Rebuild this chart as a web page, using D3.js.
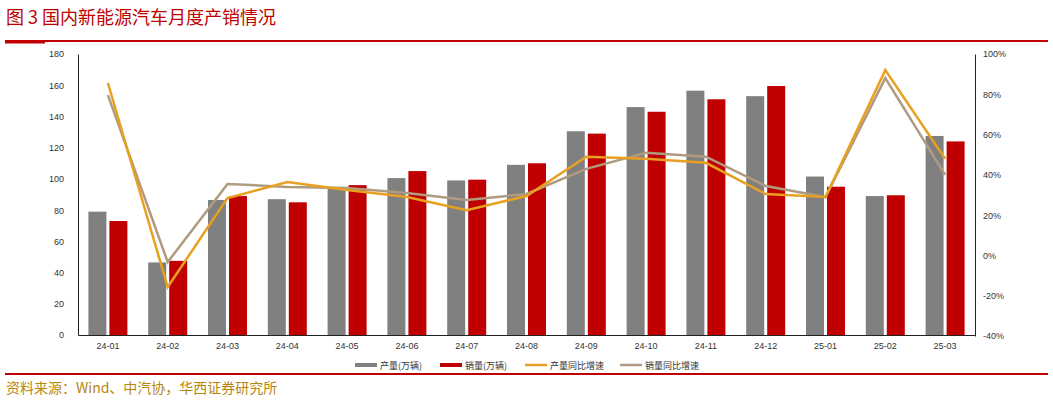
<!DOCTYPE html>
<html><head><meta charset="utf-8">
<script src="https://cdn.jsdelivr.net/npm/d3@7"></script>
<style>body{margin:0;background:#fff;font-family:"Liberation Sans",Arial,sans-serif}</style>
</head><body><div class="canvas"></div>
<script>
const months = ['24-01','24-02','24-03','24-04','24-05','24-06','24-07','24-08','24-09','24-10','24-11','24-12','25-01','25-02','25-03'];
const production = [79,46.5,86.5,87,94,100.5,99,109,130.5,146,156.5,153,101.5,89,127.5];
const sales = [73,47.5,89,85,96,105,99.5,110,129,143,151,159.5,95,89.5,124];
const prodYoY = [85.6,-15.7,28.5,36.4,32.5,29,22.5,29.5,49,48,46,30.5,29,92,48];
const salesYoY = [79.6,-3.3,35.5,34,33.5,31,27.5,30.5,43,51,49,34.5,29,88,40];
const leftTicks = d3.range(0,181,20);
const rightTicks = d3.range(-40,101,20);

const W = 1053, H = 402;
const svg = d3.select('.canvas').append('svg').attr('width', W).attr('height', H);
const cjk = '"Noto Sans CJK SC",sans-serif';

// title & rules
svg.append('text').attr('x', 6).attr('y', 24).attr('fill', '#c00000')
  .attr('font-family', cjk).attr('font-size', 18).text('图 3   国内新能源汽车月度产销情况');
svg.append('rect').attr('x', 5).attr('y', 40).attr('width', 1043).attr('height', 2).attr('fill', '#c00000');
svg.append('rect').attr('x', 5).attr('y', 42).attr('width', 40).attr('height', 1.5).attr('fill', '#c00000');
svg.append('rect').attr('x', 5).attr('y', 373).attr('width', 1043).attr('height', 2).attr('fill', '#c00000');
svg.append('text').attr('x', 6).attr('y', 393).attr('fill', '#b8860b')
  .attr('font-family', cjk).attr('font-size', 14).text('资料来源：Wind、中汽协，华西证券研究所');

const x = d3.scaleBand().domain(months).range([78, 975]).paddingInner(0);
const yL = d3.scaleLinear().domain([0,180]).range([335,54]);
const yR = d3.scaleLinear().domain([-40,100]).range([336,54]);
const bw = 18, gap = 3;

const axisStyle = g => {
  g.selectAll('text').attr('font-size', 9).attr('fill', '#333');
  g.select('.domain').attr('stroke', '#222');
};
svg.append('g').attr('transform', 'translate(78,0)')
  .call(d3.axisLeft(yL).tickValues(leftTicks).tickSize(0).tickPadding(14)).call(axisStyle);
svg.append('g').attr('transform', 'translate(975,0)')
  .call(d3.axisRight(yR).tickValues(rightTicks).tickSize(0).tickPadding(8).tickFormat(d => d + '%')).call(axisStyle);
svg.append('g').attr('transform', 'translate(0,335)')
  .call(d3.axisBottom(x).tickSize(0).tickPadding(8)).call(axisStyle);

const cx = d => x(d) + x.bandwidth() / 2;
svg.selectAll('.p').data(months).enter().append('rect')
  .attr('x', d => cx(d) - bw - gap/2).attr('width', bw)
  .attr('y', (d,i) => yL(production[i])).attr('height', (d,i) => yL(0) - yL(production[i]))
  .attr('fill', '#808080');
svg.selectAll('.s').data(months).enter().append('rect')
  .attr('x', d => cx(d) + gap/2).attr('width', bw)
  .attr('y', (d,i) => yL(sales[i])).attr('height', (d,i) => yL(0) - yL(sales[i]))
  .attr('fill', '#c00000');

const line = arr => d3.line().x((d,i) => cx(months[i])).y(d => yR(d))(arr);
svg.append('path').attr('d', line(salesYoY)).attr('fill', 'none').attr('stroke', '#b09a80').attr('stroke-width', 2.5);
svg.append('path').attr('d', line(prodYoY)).attr('fill', 'none').attr('stroke', '#e8a020').attr('stroke-width', 2.5);

// legend
const legend = [['产量(万辆)','#808080',4],['销量(万辆)','#c00000',4],['产量同比增速','#e8a020',2.5],['销量同比增速','#b09a80',2.5]];
const lx = [355, 440, 525, 620];
legend.forEach((l, i) => {
  svg.append('rect').attr('x', lx[i]).attr('y', 365 - l[2]/2).attr('width', 22).attr('height', l[2]).attr('fill', l[1]);
  svg.append('text').attr('x', lx[i] + 25).attr('y', 368.5).attr('font-size', 9).attr('fill', '#333')
    .attr('font-family', cjk).text(l[0]);
});
</script></body></html>
